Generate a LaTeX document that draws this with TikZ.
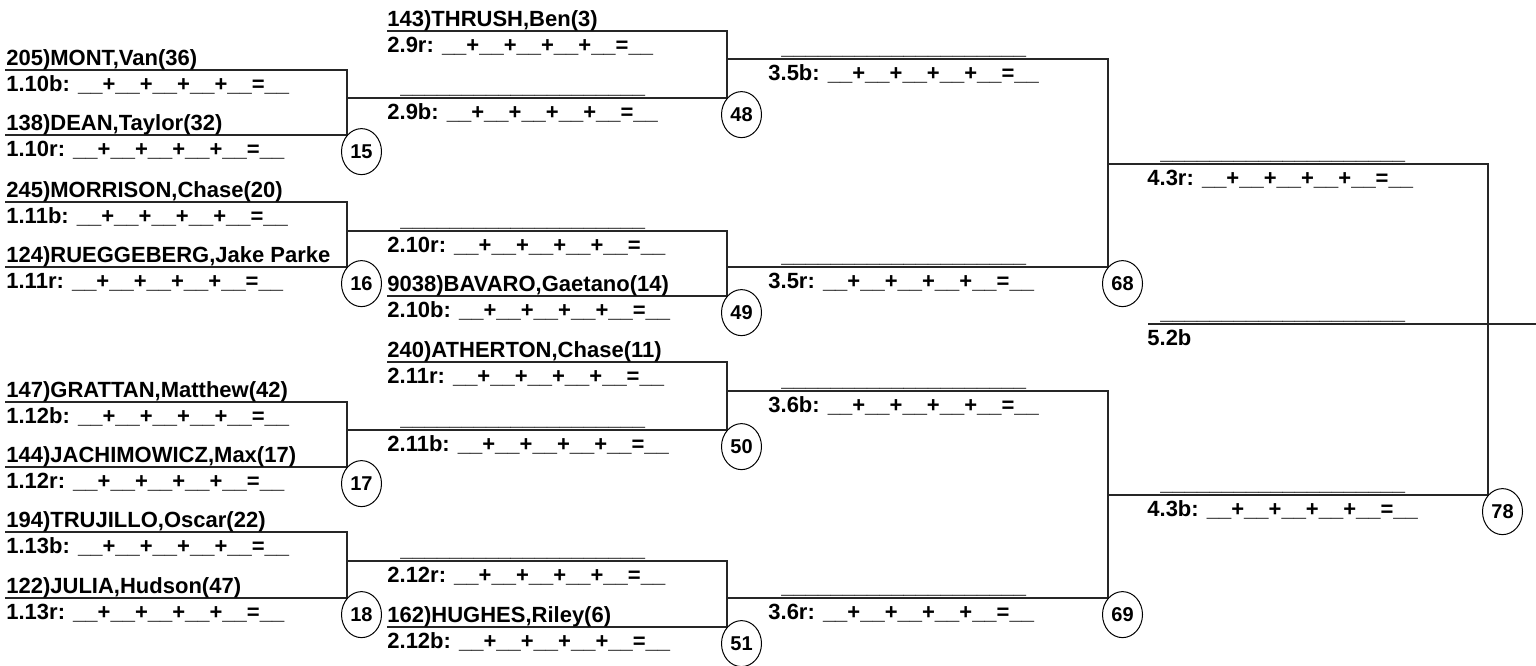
\documentclass[tikz,border=0pt]{standalone}
\usepackage{fontspec}
\setmainfont{Liberation Sans}
\usetikzlibrary{shapes.geometric}

\newcommand{\tally}{\_\_+\_\_+\_\_+\_\_+\_\_=\_\_}
\newcommand{\blankline}{\hspace*{6.5pt}\raisebox{-0.4pt}{\_\_\_\_\_\_\_\_\_\_\_\_\_\_\_\_\_\_\_\_}}

\begin{document}
\begin{tikzpicture}[x=0.5pt, y=-0.5pt,
    bline/.style={line width=0.7pt, black!85},
    entry/.style={anchor=base west, inner sep=0pt, font=\bfseries\fontsize{11}{13}\selectfont},
    seed/.style={ellipse, draw, line width=0.5pt, minimum width=20pt, minimum height=23pt,
        inner sep=0pt, anchor=north west, font=\bfseries\fontsize{10}{12}\selectfont}]
    \useasboundingbox (0,0) rectangle (1536,665);

    % Round 1
    \foreach \m/\ya/\yb/\yw in {15/70/135/98, 16/202/267/231, 17/402/467/430, 18/532/598/561} {
        \coordinate (a\m) at (5,\ya);
        \coordinate (b\m) at (5,\yb);
        \coordinate (k\m) at (347,\yb);
        \coordinate (w\m) at (347,\yw);
        \draw[bline] (a\m) -| (k\m) -- (b\m);
        \node[seed] (s\m) at (k\m) {\m};
    }
    \foreach \y/\who/\slot in {70/{205)MONT,Van(36)}/1.10b, 135/{138)DEAN,Taylor(32)}/1.10r,
        202/{245)MORRISON,Chase(20)}/1.11b, 267/{124)RUEGGEBERG,Jake Parke}/1.11r,
        402/{147)GRATTAN,Matthew(42)}/1.12b, 467/{144)JACHIMOWICZ,Max(17)}/1.12r,
        532/{194)TRUJILLO,Oscar(22)}/1.13b, 598/{122)JULIA,Hudson(47)}/1.13r} {
        \node[entry] (p\y) at (6,\y-5) {\who};
        \node[entry] (r\y) at (6,\y+21) {\slot: \tally};
    }

    % Round 2
    \coordinate (e48) at (387,31);
    \coordinate (e49) at (387,296);
    \coordinate (e50) at (387,362);
    \coordinate (e51) at (387,627);
    \coordinate (k48) at (727,98);
    \coordinate (k49) at (727,296);
    \coordinate (k50) at (727,430);
    \coordinate (k51) at (727,627);
    \coordinate (w48) at (727,59);
    \coordinate (w49) at (727,267);
    \coordinate (w50) at (727,391);
    \coordinate (w51) at (727,598);
    \draw[bline] (e48) -| (k48) -- (w15);
    \draw[bline] (w16) -| (k49) -- (e49);
    \draw[bline] (e50) -| (k50) -- (w17);
    \draw[bline] (w18) -| (k51) -- (e51);

    % Round 3
    \coordinate (k68) at (1108,267);
    \coordinate (k69) at (1108,598);
    \coordinate (w68) at (1108,164);
    \coordinate (w69) at (1108,495);
    \draw[bline] (w48) -| (k68) -- (w49);
    \draw[bline] (w50) -| (k69) -- (w51);

    % Round 4 and final
    \coordinate (k78) at (1488,495);
    \coordinate (w78) at (1488,324);
    \coordinate (f52) at (1148,324);
    \coordinate (g52) at (1536,324);
    \draw[bline] (w68) -| (k78) -- (w69);
    \draw[bline] (f52) -- (g52);

    \foreach \m in {48,49,50,51,68,69,78} {
        \node[seed] (s\m) at (k\m) {\m};
    }

    % Later slots
    \foreach \x/\y/\who/\slot in {387/31/{143)THRUSH,Ben(3)}/2.9r, 387/98/\blankline/2.9b,
        387/231/\blankline/2.10r, 387/296/{9038)BAVARO,Gaetano(14)}/2.10b,
        387/362/{240)ATHERTON,Chase(11)}/2.11r, 387/430/\blankline/2.11b,
        387/561/\blankline/2.12r, 387/627/{162)HUGHES,Riley(6)}/2.12b,
        768/59/\blankline/3.5b, 768/267/\blankline/3.5r,
        768/391/\blankline/3.6b, 768/598/\blankline/3.6r,
        1147/164/\blankline/4.3r, 1147/495/\blankline/4.3b} {
        \node[entry] (p\x-\y) at (\x,\y-5) {\who};
        \node[entry] (r\x-\y) at (\x,\y+21) {\slot: \tally};
    }
    \node[entry] (p52) at (1147,319) {\blankline};
    \node[entry] (r52) at (1147,345) {5.2b};
\end{tikzpicture}
\end{document}
